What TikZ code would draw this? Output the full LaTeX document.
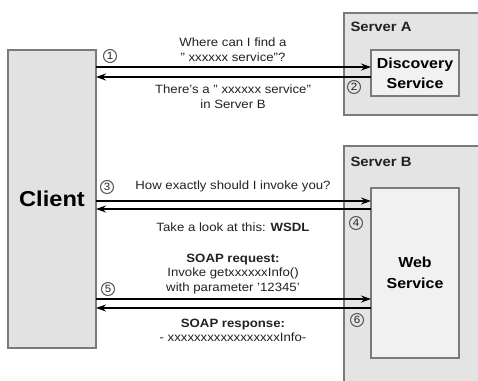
\documentclass[tikz,border=0pt]{standalone}
\usepackage{fontspec}
\setmainfont[FakeStretch=1.1]{Liberation Sans}
\usetikzlibrary{arrows.meta}
\definecolor{boxline}{HTML}{7A7A7A}
\definecolor{ringline}{HTML}{555555}
\definecolor{serverfill}{HTML}{E4E4E4}
\definecolor{clientfill}{HTML}{E2E2E2}
\definecolor{innerfill}{HTML}{F1F1F1}
\definecolor{textgray}{HTML}{222222}
\begin{document}
\begin{tikzpicture}[x=1pt,y=-1pt,
  box/.style={draw=boxline, line width=1.2pt, inner sep=0pt, outer sep=0pt},
  server/.style={fill=serverfill, inner sep=0pt, outer sep=0pt},
  srvlabel/.style={font=\bfseries\fontsize{13.5}{15}\selectfont, text=textgray, anchor=west},
  msg/.style={font=\fontsize{12}{15}\selectfont, text=textgray, align=center},
  stepnum/.style={circle, draw=ringline, line width=1pt, inner sep=0pt, minimum size=13pt, text=textgray, font=\fontsize{10.5}{11}\selectfont},
  flow/.style={line width=1.4pt, -{Stealth[length=10pt,width=7pt]}},
]
\useasboundingbox[fill=white] (0,0) rectangle (478,380);

% servers (open to the right and bottom edge)
\node[server, minimum width=134pt, minimum height=102pt] (srvA) at (411,64) {};
\draw[boxline, line width=1.2pt] (srvA.north east) -- (srvA.north west) -- (srvA.south west) -- (srvA.south east);
\node[server, minimum width=134pt, minimum height=236pt] (srvB) at (411,264) {};
\draw[boxline, line width=1.2pt] (srvB.north east) -- (srvB.north west) -- (srvB.south west);
\node[srvlabel] (labA) at (347,27) {Server A};
\node[srvlabel] (labB) at (347,162) {Server B};

% main boxes
\node[box, fill=clientfill, minimum width=88pt, minimum height=298pt,
      font=\bfseries\fontsize{21.5}{24}\selectfont] (client) at (52,199) {Client};
\node[box, fill=innerfill, minimum width=88pt, minimum height=46pt, align=center,
      font=\bfseries\fontsize{14.5}{20}\selectfont] (disc) at (415,73) {Discovery\\Service};
\node[box, fill=innerfill, minimum width=88pt, minimum height=170pt, align=center,
      font=\bfseries\fontsize{14.5}{21}\selectfont] (web) at (415,273) {Web\\Service};

% messages
\draw[flow] (client.east |- 0,67) -- (disc.west |- 0,67);
\draw[flow] (disc.west |- 0,77) -- (client.east |- 0,77);
\draw[flow] (client.east |- 0,201) -- (web.west |- 0,201);
\draw[flow] (web.west |- 0,209) -- (client.east |- 0,209);
\draw[flow] (client.east |- 0,299) -- (web.west |- 0,299);
\draw[flow] (web.west |- 0,308) -- (client.east |- 0,308);

% step numbers
\node[stepnum] (s1) at (110,56) {1};
\node[stepnum] (s2) at (354,87) {2};
\node[stepnum] (s3) at (107,187) {3};
\node[stepnum] (s4) at (356,223) {4};
\node[stepnum] (s5) at (108,289) {5};
\node[stepnum] (s6) at (357,320) {6};

% texts
\node[msg] (t1) at (233,50) {Where can I find a\\" xxxxxx service"?};
\node[msg] (t2) at (233,97) {There's a " xxxxxx service"\\in Server B};
\node[msg] (t3) at (233,186) {How exactly should I invoke you?};
\node[msg] (t4) at (233,227) {Take a look at this: \textbf{WSDL}};
\node[msg, font=\fontsize{12}{14.2}\selectfont] (t5) at (233,274) {\textbf{SOAP request:}\\Invoke getxxxxxxInfo()\\ with parameter '12345'};
\node[msg, font=\fontsize{12}{14}\selectfont] (t6) at (233,330) {\textbf{SOAP response:}\\- xxxxxxxxxxxxxxxxxInfo-};
\end{tikzpicture}
\end{document}
